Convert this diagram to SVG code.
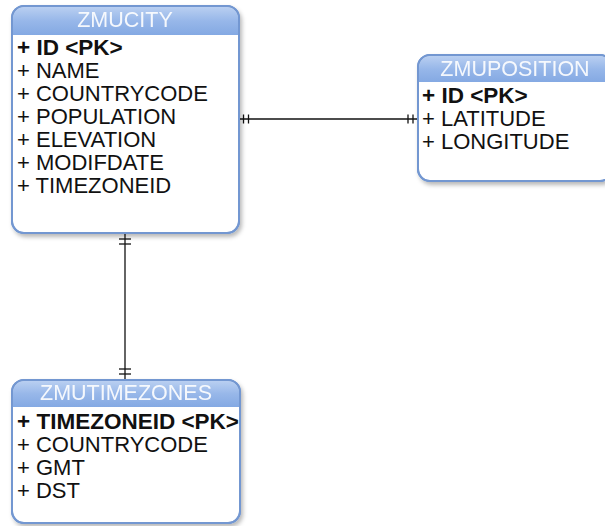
<svg xmlns="http://www.w3.org/2000/svg" width="605" height="526" viewBox="0 0 605 526">
  <style>
    .body { fill: #ffffff; stroke: #7397d1; stroke-width: 2; }
    .head { fill: url(#headGrad); }
    .title { font-family: "Liberation Sans", Arial, Helvetica, sans-serif; font-size: 21.5px; fill: #ffffff; text-anchor: middle; opacity: 0.9; }
    .attr { font-family: "Liberation Sans", Arial, Helvetica, sans-serif; font-size: 22px; fill: #111111; }
    .pk { font-weight: bold; font-size: 22.5px; }
    .conn { stroke: #111111; stroke-width: 1.3; fill: none; }
  </style>
  <defs>
    <linearGradient id="headGrad" x1="0" y1="0" x2="0" y2="1">
      <stop offset="0" stop-color="#b9cff1"/>
      <stop offset="0.5" stop-color="#97b7e9"/>
      <stop offset="1" stop-color="#84a9e3"/>
    </linearGradient>
    <filter id="shadow" x="-10%" y="-10%" width="125%" height="125%">
      <feDropShadow dx="2" dy="3" stdDeviation="2" flood-color="#000000" flood-opacity="0.28"/>
    </filter>
  </defs>

  <rect width="605" height="526" fill="#ffffff"/>

  <!-- relationship lines with one-to-one cardinality ticks -->
  <g id="connectors">
    <line class="conn" x1="239" y1="119" x2="418" y2="119"/>
    <line class="conn" x1="243.5" y1="114.5" x2="243.5" y2="123.5"/>
    <line class="conn" x1="248.5" y1="114.5" x2="248.5" y2="123.5"/>
    <line class="conn" x1="408" y1="114.5" x2="408" y2="123.5"/>
    <line class="conn" x1="413" y1="114.5" x2="413" y2="123.5"/>

    <line class="conn" x1="125" y1="233" x2="125" y2="380"/>
    <line class="conn" x1="119" y1="239" x2="131" y2="239"/>
    <line class="conn" x1="119" y1="244" x2="131" y2="244"/>
    <line class="conn" x1="119" y1="369" x2="131" y2="369"/>
    <line class="conn" x1="119" y1="374" x2="131" y2="374"/>
  </g>

  <!-- ZMUCITY table -->
  <g id="zmucity">
    <rect class="body" x="12" y="6" width="227" height="227" rx="12" filter="url(#shadow)"/>
    <path class="head" d="M13,35 V18 A11,11 0 0 1 24,7 H227 A11,11 0 0 1 238,18 V35 Z"/>
    <rect x="12" y="6" width="227" height="227" rx="12" fill="none" stroke="#7397d1" stroke-width="2"/>
    <text class="title" x="125" y="27">ZMUCITY</text>
    <text class="attr pk" x="17" y="55">+ ID &lt;PK&gt;</text>
    <text class="attr" x="17" y="78">+ NAME</text>
    <text class="attr" x="17" y="101">+ COUNTRYCODE</text>
    <text class="attr" x="17" y="124">+ POPULATION</text>
    <text class="attr" x="17" y="147">+ ELEVATION</text>
    <text class="attr" x="17" y="170">+ MODIFDATE</text>
    <text class="attr" x="17" y="193">+ TIMEZONEID</text>
  </g>

  <!-- ZMUPOSITION table -->
  <g id="zmuposition">
    <rect class="body" x="418" y="55" width="194" height="126" rx="12" filter="url(#shadow)"/>
    <path class="head" d="M419,82 V67 A11,11 0 0 1 430,56 H600 A11,11 0 0 1 611,67 V82 Z"/>
    <rect x="418" y="55" width="194" height="126" rx="12" fill="none" stroke="#7397d1" stroke-width="2"/>
    <text class="title" x="515" y="76">ZMUPOSITION</text>
    <text class="attr pk" x="422" y="103">+ ID &lt;PK&gt;</text>
    <text class="attr" x="422" y="126">+ LATITUDE</text>
    <text class="attr" x="422" y="149">+ LONGITUDE</text>
  </g>

  <!-- ZMUTIMEZONES table -->
  <g id="zmutimezones">
    <rect class="body" x="12" y="380" width="228" height="143" rx="12" filter="url(#shadow)"/>
    <path class="head" d="M13,407 V392 A11,11 0 0 1 24,381 H228 A11,11 0 0 1 239,392 V407 Z"/>
    <rect x="12" y="380" width="228" height="143" rx="12" fill="none" stroke="#7397d1" stroke-width="2"/>
    <text class="title" x="126" y="400">ZMUTIMEZONES</text>
    <text class="attr pk" x="17" y="429">+ TIMEZONEID &lt;PK&gt;</text>
    <text class="attr" x="17" y="452">+ COUNTRYCODE</text>
    <text class="attr" x="17" y="475">+ GMT</text>
    <text class="attr" x="17" y="498">+ DST</text>
  </g>
</svg>
